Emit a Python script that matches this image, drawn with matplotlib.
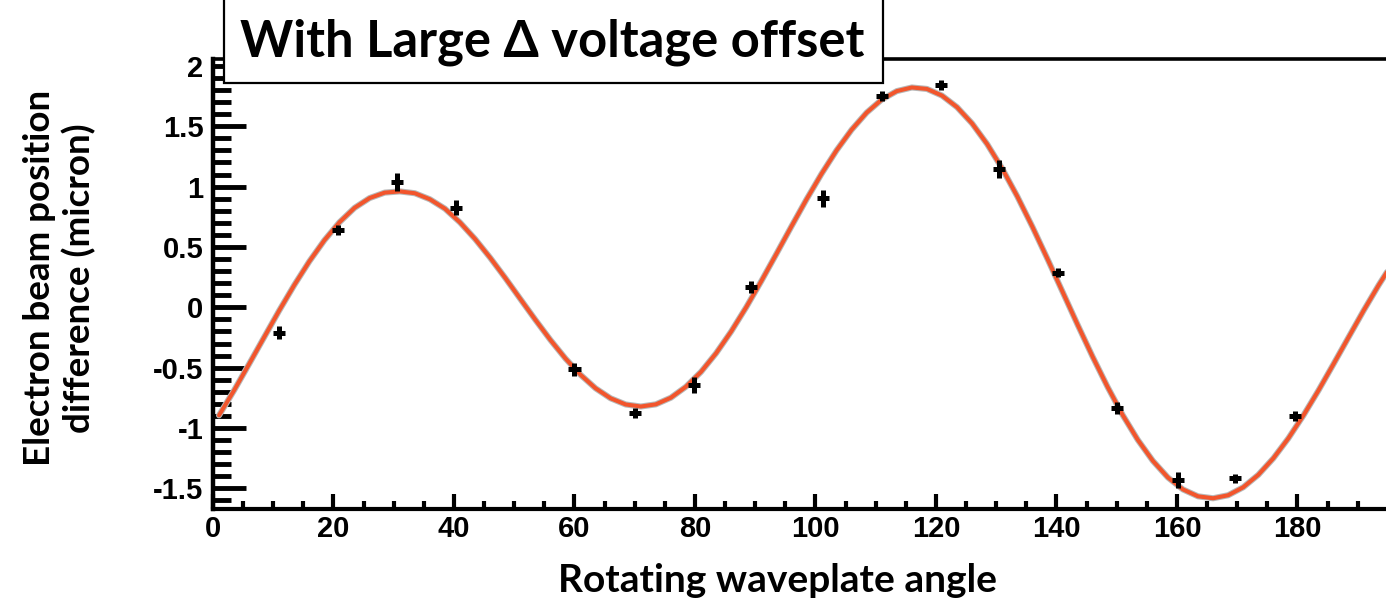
import numpy as np
import matplotlib
matplotlib.use("Agg")
import matplotlib.pyplot as plt
import matplotlib.patheffects as pe
from matplotlib.patches import Rectangle
from matplotlib.ticker import MultipleLocator
from matplotlib import font_manager

# measured points (waveplate angle in deg, beam position difference in micron)
angle = [11.0, 20.8, 30.5, 40.4, 60.0, 70.0, 79.8, 89.3, 101.3, 111.0,
         120.8, 130.4, 140.2, 150.0, 160.1, 169.7, 179.6]
diff = [-0.21, 0.64, 1.04, 0.825, -0.514, -0.873, -0.644, 0.166, 0.903, 1.75,
        1.84, 1.143, 0.287, -0.832, -1.431, -1.417, -0.90]
diff_err = [0.055, 0.045, 0.075, 0.06, 0.055, 0.04, 0.07, 0.05, 0.07, 0.04,
            0.04, 0.075, 0.04, 0.05, 0.065, 0.035, 0.04]
angle_err = [1.0] * len(angle)

# fit curve, every 2.5 deg starting at 1 deg
fit_angle = np.arange(1.0, 198.0, 2.5)
fit_val = [-0.895, -0.688, -0.469, -0.247, -0.026, 0.185, 0.381, 0.556, 0.705, 0.824,
           0.905, 0.950, 0.960, 0.945, 0.895, 0.817, 0.703, 0.566, 0.411, 0.244,
           0.070, -0.103, -0.270, -0.424, -0.559, -0.671, -0.754, -0.805, -0.822, -0.804,
           -0.749, -0.658, -0.535, -0.381, -0.201, -0.000, 0.216, 0.441, 0.669, 0.893,
           1.105, 1.300, 1.471, 1.613, 1.721, 1.791, 1.821, 1.809, 1.754, 1.658,
           1.523, 1.352, 1.149, 0.919, 0.668, 0.402, 0.130, -0.143, -0.409, -0.661,
           -0.893, -1.098, -1.272, -1.410, -1.509, -1.566, -1.582, -1.557, -1.491, -1.388,
           -1.251, -1.085, -0.895, -0.688, -0.469, -0.247, -0.026, 0.185, 0.381]

# narrow Helvetica-like digits if available
names = {f.name for f in font_manager.fontManager.ttflist}
if "Liberation Sans Narrow" in names:
    tick_family, tick_size = "Liberation Sans Narrow", 25
else:
    tick_family, tick_size = "Liberation Sans", 21

W, H = 1386, 603
fig = plt.figure(figsize=(W / 100, H / 100), dpi=100)
ax = fig.add_axes([213 / W, 94 / H, (W - 213) / W, (509 - 59) / H])

ax.plot(fit_angle, fit_val, color="#f2552c", lw=2.9, solid_capstyle="round",
        solid_joinstyle="round",
        path_effects=[pe.Stroke(linewidth=4.4, foreground="#b8b8b8"), pe.Normal()],
        zorder=2)
ax.errorbar(angle, diff, yerr=diff_err, xerr=angle_err, fmt="none",
            ecolor="black", elinewidth=3.6, capsize=0, zorder=3)

ax.set_xlim(0, 194.7)
ax.set_ylim(-1.671, 2.057)
ax.xaxis.set_major_locator(MultipleLocator(20))
ax.xaxis.set_minor_locator(MultipleLocator(5))
ax.yaxis.set_minor_locator(MultipleLocator(0.1))
ax.set_yticks([-1.5, -1, -0.5, 0, 0.5, 1, 1.5, 2])
ax.set_yticklabels(["-1.5", "-1", "-0.5", "0", "0.5", "1", "1.5", "2"])

ax.tick_params(axis="y", which="major", direction="in", length=23.8, width=3.5,
               pad=7, labelsize=tick_size)
ax.tick_params(axis="y", which="minor", direction="in", length=13, width=3.5)
ax.tick_params(axis="x", which="major", direction="in", length=10.8, width=3.0,
               pad=4, labelsize=tick_size)
ax.tick_params(axis="x", which="minor", direction="in", length=5.8, width=3.0)
for lab in ax.get_xticklabels() + ax.get_yticklabels():
    lab.set_fontfamily(tick_family)
    lab.set_fontweight("bold")

ax.spines["right"].set_visible(False)
ax.spines["left"].set_linewidth(3.2)
ax.spines["bottom"].set_linewidth(3.0)
ax.spines["top"].set_linewidth(2.6)

# title box overlapping the top of the frame
box = Rectangle((224 / W, (H - 83) / H), (883 - 224) / W, 95 / H,
                transform=fig.transFigure, facecolor="white", edgecolor="black",
                linewidth=1.6, zorder=10)
fig.add_artist(box)
fig.text(552 / W, 1 - 42 / H, "With Large \u0394 voltage offset", ha="center",
         va="center", fontsize=36.5, fontweight="bold", family="Lato", zorder=11)

fig.text(60 / W, 1 - 278 / H, "Electron beam position\ndifference (micron)",
         rotation=90, ha="center", va="center", multialignment="center",
         fontsize=26.5, fontweight="bold", family="Lato", linespacing=1.2)
fig.text(778 / W, 1 - 581 / H, "Rotating waveplate angle", ha="center",
         va="center", fontsize=28, fontweight="bold", family="Lato")

fig.savefig("out.png", dpi=100)
